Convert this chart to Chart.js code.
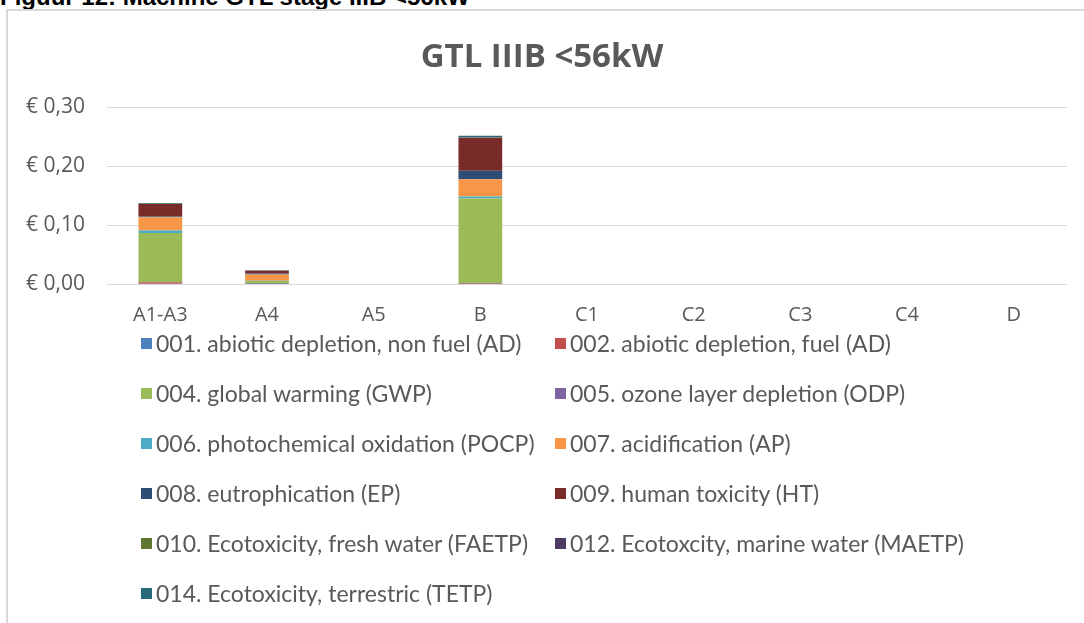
<!DOCTYPE html>
<html><head><meta charset="utf-8">
<script src="https://cdn.jsdelivr.net/npm/chart.js@4.4.1/dist/chart.umd.min.js"></script>
<style>
html,body{margin:0;padding:0;background:#fff;width:1084px;height:623px;overflow:hidden;}
body{position:relative;font-family:'Open Sans',sans-serif;}
#hdr{position:absolute;left:0;top:-15px;font:bold 24px 'Liberation Sans',Arial,sans-serif;line-height:24px;color:#000;white-space:nowrap;}
#frame{position:absolute;left:6px;top:9px;width:1200px;height:800px;border:2px solid #d9d9d9;box-sizing:border-box;}
#c{position:absolute;left:0;top:0;}
#legend{position:absolute;left:141px;top:318px;display:grid;grid-template-columns:414px auto;}
.li{display:flex;align-items:center;height:50px;font-family:Lato,sans-serif;font-size:23px;color:#595959;white-space:nowrap;}
.sw{width:11px;height:11px;margin-right:4px;flex:none;}
</style></head>
<body>
<div id="hdr">Figuur 12: Machine GTL stage IIIB &lt;56kW</div>
<div id="frame"></div>
<canvas id="c" width="1084" height="623"></canvas>
<div id="legend"></div>
<script>
const categories = ['A1-A3','A4','A5','B','C1','C2','C3','C4','D'];
const yTickLabels = ['€ 0,00','€ 0,10','€ 0,20','€ 0,30'];
const chartTitle = 'GTL IIIB <56kW';

const seriesNames = [
  '001. abiotic depletion, non fuel (AD)',
  '002. abiotic depletion, fuel (AD)',
  '004. global warming (GWP)',
  '005. ozone layer depletion (ODP)',
  '006. photochemical oxidation (POCP)',
  '007. acidification (AP)',
  '008. eutrophication (EP)',
  '009. human toxicity (HT)',
  '010. Ecotoxicity, fresh water (FAETP)',
  '012. Ecotoxcity, marine water (MAETP)',
  '014. Ecotoxicity, terrestric (TETP)'
];
const seriesColors = ['#4F81BD','#C0504D','#9BBB59','#8064A2','#4BACC6','#F79646','#2C4D75','#772C2A','#5F7530','#4D3B62','#276A7C'];

const ad_nonfuel = [0.0005, 0.0001, 0, 0.0005, 0, 0, 0, 0, 0];
const ad_fuel    = [0.0025, 0.0003, 0, 0.0010, 0, 0, 0, 0, 0];
const gwp        = [0.0835, 0.0045, 0, 0.1435, 0, 0, 0, 0, 0];
const odp        = [0.0001, 0.0000, 0, 0.0001, 0, 0, 0, 0, 0];
const pocp       = [0.0040, 0.0005, 0, 0.0030, 0, 0, 0, 0, 0];
const ap         = [0.0225, 0.0105, 0, 0.0293, 0, 0, 0, 0, 0];
const ep         = [0.0015, 0.0020, 0, 0.0146, 0, 0, 0, 0, 0];
const ht         = [0.0210, 0.0045, 0, 0.0560, 0, 0, 0, 0, 0];
const faetp      = [0.0003, 0.0001, 0, 0.0005, 0, 0, 0, 0, 0];
const maetp      = [0.0002, 0.0001, 0, 0.0003, 0, 0, 0, 0, 0];
const tetp       = [0.0012, 0.0008, 0, 0.0025, 0, 0, 0, 0, 0];
const seriesValues = [ad_nonfuel, ad_fuel, gwp, odp, pocp, ap, ep, ht, faetp, maetp, tetp];

const textColor = '#595959';
const fam = "'Open Sans', sans-serif";

new Chart(document.getElementById('c'), {
  type: 'bar',
  data: {
    labels: categories,
    datasets: seriesNames.map((n, i) => ({
      label: n, data: seriesValues[i], backgroundColor: seriesColors[i],
      borderWidth: 0, barPercentage: 0.41, categoryPercentage: 1, stack: 's'
    }))
  },
  options: {
    responsive: false, animation: false,
    layout: { padding: { left: 17, right: 17, top: 0, bottom: 279 } },
    plugins: {
      legend: { display: false },
      tooltip: { enabled: false },
      title: { display: true, text: chartTitle, color: textColor,
        font: { family: fam, size: 33, weight: 'bold' }, padding: { top: 38.2, bottom: 29.2 } }
    },
    scales: {
      x: { stacked: true, grid: { display: false, drawTicks: false }, border: { display: false },
        afterFit: s => { s.height = 60; },
        ticks: { color: textColor, font: { family: fam, size: 20 }, padding: 19 } },
      y: { stacked: true, min: 0, max: 0.3,
        afterFit: s => { s.width = 90; },
        grid: { color: '#d9d9d9', lineWidth: 1, drawTicks: false }, border: { display: false },
        ticks: { stepSize: 0.1, padding: 22, color: textColor, font: { family: fam, size: 21 },
          callback: (v, i) => yTickLabels[i] } }
    }
  }
});

const lg = document.getElementById('legend');
seriesNames.forEach((n, i) => {
  const d = document.createElement('div'); d.className = 'li';
  const s = document.createElement('span'); s.className = 'sw'; s.style.background = seriesColors[i];
  const t = document.createElement('span'); t.textContent = n;
  d.appendChild(s); d.appendChild(t); lg.appendChild(d);
});
</script>
</body></html>
